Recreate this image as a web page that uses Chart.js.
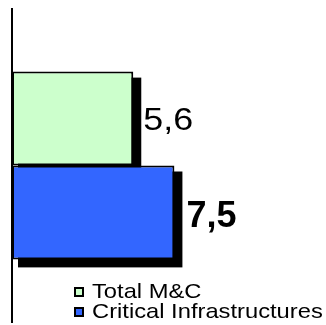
<!DOCTYPE html>
<html>
<head>
<meta charset="utf-8">
<script src="https://cdn.jsdelivr.net/npm/chart.js@4"></script>
<style>
  html, body { margin: 0; padding: 0; background: #fff; }
  #wrap { width: 326px; height: 325px; }
</style>
</head>
<body>
<div id="wrap"><canvas id="chart"></canvas></div>
<script>
// chart data
const categories = [''];
const seriesNames = ['Total M&C', 'Critical Infrastructures'];
const seriesValues = [[5.6], [7.5]];
const seriesColors = ['#CCFFCC', '#3366FF'];
const labelBold = [false, true];

const FONT = "'Liberation Sans', Arial, sans-serif";

function formatValue(v) {
    return v.toFixed(1).replace('.', ',');
}

// draw text squeezed wider, like the old office export
function wideText(ctx, text, x, y, sx) {
    ctx.save();
    ctx.translate(x, y);
    ctx.scale(sx, 1);
    ctx.fillText(text, 0, 0);
    ctx.restore();
}

// hard black drop shadow behind every bar
const barShadow = {
    id: 'barShadow',
    beforeDatasetsDraw(chart) {
        const ctx = chart.ctx;
        ctx.save();
        ctx.fillStyle = '#000';
        chart.data.datasets.forEach((ds, i) => {
            chart.getDatasetMeta(i).data.forEach(bar => {
                const top = bar.y - bar.height / 2;
                ctx.fillRect(bar.base + 6, top + 6, bar.x - bar.base + 2, bar.height + 2);
            });
        });
        ctx.restore();
    }
};

// value next to the end of each bar
const valueLabels = {
    id: 'valueLabels',
    afterDatasetsDraw(chart) {
        const ctx = chart.ctx;
        ctx.save();
        ctx.fillStyle = '#000';
        ctx.textBaseline = 'alphabetic';
        ctx.textAlign = 'left';
        chart.data.datasets.forEach((ds, i) => {
            chart.getDatasetMeta(i).data.forEach((bar, j) => {
                const txt = formatValue(ds.data[j]);
                if (labelBold[i]) {
                    ctx.font = 'bold 36px ' + FONT;
                    wideText(ctx, txt, bar.x + 12, bar.y + 14.5, 1.0);
                } else {
                    ctx.font = '32px ' + FONT;
                    wideText(ctx, txt, bar.x + 10, bar.y + 11.5, 1.12);
                }
            });
        });
        ctx.restore();
    }
};

// stacked legend sitting inside the plot, bottom left
const stackedLegend = {
    id: 'stackedLegend',
    afterDraw(chart) {
        const ctx = chart.ctx;
        ctx.save();
        ctx.font = '21px ' + FONT;
        ctx.textBaseline = 'alphabetic';
        chart.data.datasets.forEach((ds, i) => {
            const y = 288 + i * 20;
            ctx.fillStyle = ds.backgroundColor;
            ctx.fillRect(75, y, 8, 8);
            ctx.strokeStyle = '#000';
            ctx.lineWidth = 2;
            ctx.strokeRect(75, y, 8, 8);
            ctx.fillStyle = '#000';
            wideText(ctx, ds.label, 92, y + 10, 1.13);
        });
        ctx.restore();
    }
};

new Chart(document.getElementById('chart'), {
    type: 'bar',
    data: {
        labels: categories,
        datasets: seriesNames.map((name, i) => ({
            label: name,
            data: seriesValues[i],
            backgroundColor: seriesColors[i],
            borderColor: '#000',
            borderWidth: 2,
            borderSkipped: false,
            categoryPercentage: 0.6,
            barPercentage: 1.0
        }))
    },
    options: {
        indexAxis: 'y',
        responsive: true,
        maintainAspectRatio: false,
        animation: false,
        layout: { padding: { left: 12, top: 9, bottom: 3, right: 0 } },
        plugins: {
            legend: { display: false },
            tooltip: { enabled: false }
        },
        scales: {
            x: { display: false, min: 0, max: 14.5 },
            y: {
                display: true,
                grid: { display: false, drawTicks: false },
                ticks: { display: false },
                border: { display: true, color: '#000', width: 2 }
            }
        }
    },
    plugins: [barShadow, valueLabels, stackedLegend]
});
</script>
</body>
</html>
